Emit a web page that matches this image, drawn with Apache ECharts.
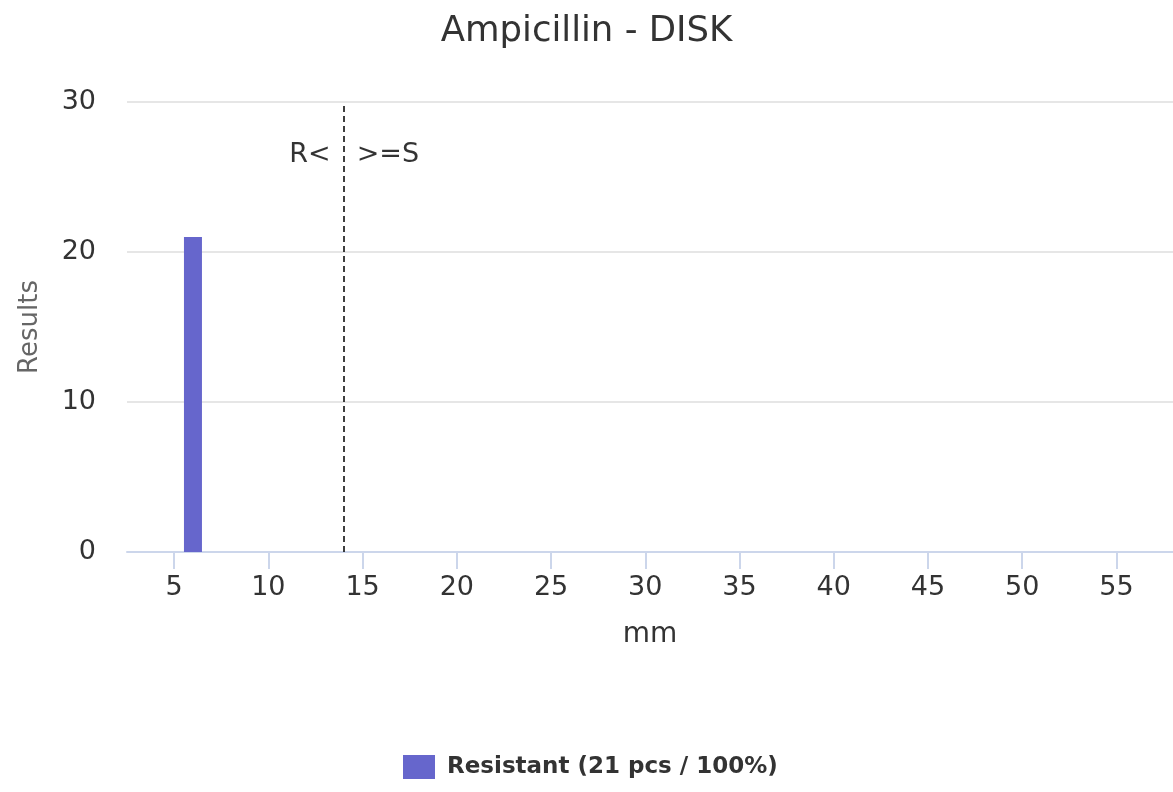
<!DOCTYPE html>
<html>
<head>
<meta charset="utf-8">
<script src="https://cdn.jsdelivr.net/npm/echarts@6/dist/echarts.min.js"></script>
<style>
html,body{margin:0;padding:0;background:#fff;}
#chart{width:1173px;height:792px;}
</style>
</head>
<body>
<div id="chart"></div>
<script>
const titleText = 'Ampicillin - DISK';
const seriesName = 'Resistant (21 pcs / 100%)';
const zoneDiameters = [6];
const resultCounts = [21];
const breakpoint = 14;
const breakpointLabelY = 26.5;
const leftLabel = 'R<';
const rightLabel = '>=S';
const xTickValues = [5, 10, 15, 20, 25, 30, 35, 40, 45, 50, 55];
const xName = 'mm';
const yName = 'Results';

const FONT = 'DejaVu Sans';
const barData = zoneDiameters.map((x, i) => [x, resultCounts[i]]);

const chart = echarts.init(document.getElementById('chart'));
chart.setOption({
  animation: false,
  backgroundColor: '#ffffff',
  title: {
    text: titleText,
    left: 'center',
    top: 9,
    textStyle: { fontFamily: FONT, fontSize: 35.5, fontWeight: 'normal', color: '#333333' }
  },
  legend: {
    data: [seriesName],
    left: 403,
    top: 755,
    padding: 0,
    icon: 'rect',
    itemWidth: 32,
    itemHeight: 24,
    itemGap: 10,
    textStyle: { fontFamily: FONT, fontSize: 23, fontWeight: 'bold', color: '#333333', padding: [0, 0, 0, 7] }
  },
  grid: { left: 127, right: 0, top: 102, bottom: 240, containLabel: false, outerBoundsMode: 'none' },
  xAxis: {
    type: 'value',
    min: 2.5,
    max: 58,
    name: xName,
    nameLocation: 'middle',
    nameGap: 69,
    nameTextStyle: { fontFamily: FONT, fontSize: 28, color: '#333333' },
    axisLine: { show: true, lineStyle: { color: '#ccd6eb', width: 2 } },
    axisTick: { show: true, length: 17, lineStyle: { color: '#ccd6eb', width: 2 }, customValues: xTickValues },
    axisLabel: { fontFamily: FONT, fontSize: 27, color: '#333333', margin: 22, customValues: xTickValues },
    splitLine: { show: false }
  },
  yAxis: {
    type: 'value',
    min: 0,
    max: 30,
    interval: 10,
    name: yName,
    nameLocation: 'middle',
    nameGap: 84,
    nameRotate: 90,
    nameTextStyle: { fontFamily: FONT, fontSize: 26, color: '#666666' },
    axisLine: { show: false },
    axisTick: { show: false },
    axisLabel: { fontFamily: FONT, fontSize: 27, color: '#333333', margin: 31 },
    splitLine: { show: true, lineStyle: { color: '#e6e6e6', width: 2 } }
  },
  series: [
    {
      name: seriesName,
      type: 'bar',
      data: barData,
      barWidth: 18,
      itemStyle: { color: '#6666cc' },
      markLine: {
        silent: true,
        symbol: ['none', 'none'],
        label: { show: false },
        lineStyle: { color: '#000000', type: [6, 4], width: 1.5 },
        data: [{ xAxis: breakpoint }]
      }
    },
    {
      name: 'leftLabel',
      type: 'scatter',
      data: [[breakpoint, breakpointLabelY]],
      symbolSize: 0,
      silent: true,
      label: { show: true, position: 'left', distance: 13, formatter: leftLabel,
        fontFamily: FONT, fontSize: 27, color: '#000000' }
    },
    {
      name: 'rightLabel',
      type: 'scatter',
      data: [[breakpoint, breakpointLabelY]],
      symbolSize: 0,
      silent: true,
      label: { show: true, position: 'right', distance: 13, formatter: rightLabel,
        fontFamily: FONT, fontSize: 27, color: '#000000' }
    }
  ]
});
</script>
</body>
</html>
